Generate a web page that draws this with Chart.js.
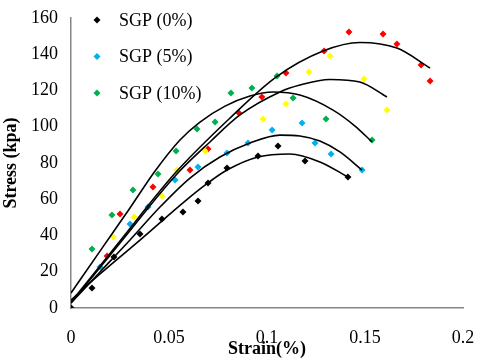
<!DOCTYPE html>
<html>
<head>
<meta charset="utf-8">
<script src="https://cdn.jsdelivr.net/npm/chart.js@4.4.1/dist/chart.umd.min.js"></script>
<style>
  html, body { margin: 0; padding: 0; background: #fff; }
  #wrap { width: 480px; height: 362px; }
</style>
</head>
<body>
<div id="wrap"><canvas id="chart"></canvas></div>
<script>
// measured points (strain, stress)
const sgp0Strain = [0, 0.0107, 0.0219, 0.0352, 0.0464, 0.0571, 0.0648, 0.0699, 0.0796, 0.0954, 0.1056, 0.1194, 0.1413];
const sgp0Stress = [0, 11.0, 28.1, 40.8, 49.1, 53.0, 59.0, 69.0, 77.2, 83.9, 89.4, 81.1, 72.3];

const sgp5Strain = [0, 0.0148, 0.0301, 0.0393, 0.0531, 0.0648, 0.0796, 0.0903, 0.1026, 0.1179, 0.1245, 0.1327, 0.1485];
const sgp5Stress = [0, 22.6, 46.3, 55.7, 70.6, 77.8, 85.5, 91.0, 98.2, 102.1, 91.0, 85.0, 76.1];

const sgp10Strain = [0, 0.0107, 0.0209, 0.0316, 0.0444, 0.0536, 0.0643, 0.0735, 0.0816, 0.0923, 0.1051, 0.1133, 0.1301, 0.1536];
const sgp10Stress = [0, 32.6, 51.3, 65.1, 73.9, 86.6, 98.8, 102.6, 118.6, 121.4, 128.0, 115.9, 104.3, 92.7];

const redStrain = [0, 0.0184, 0.0250, 0.0418, 0.0607, 0.0699, 0.0857, 0.0974, 0.1097, 0.1291, 0.1418, 0.1592, 0.1663, 0.1786, 0.1832];
const redStress = [0, 28.7, 51.9, 66.8, 76.1, 87.7, 107.6, 116.4, 129.7, 141.8, 152.3, 151.2, 145.7, 134.1, 125.2];

const yellowStrain = [0, 0.0214, 0.0321, 0.0464, 0.0541, 0.0684, 0.0980, 0.1097, 0.1214, 0.1321, 0.1495, 0.1612];
const yellowStress = [0, 39.2, 50.2, 61.8, 76.1, 86.6, 104.3, 112.6, 130.2, 139.0, 126.3, 109.2];

// trend curves
const fit0Strain = [0, 0.0148, 0.0352, 0.0582, 0.0699, 0.0796, 0.0954, 0.1117, 0.1270, 0.1413];
const fit0Stress = [4.4, 18.8, 37.5, 59.0, 69.0, 76.1, 83.3, 85.0, 80.6, 72.3];

const fit5Strain = [0, 0.0148, 0.0301, 0.0454, 0.0607, 0.0760, 0.0913, 0.1066, 0.1168, 0.1270, 0.1372, 0.1485];
const fit5Stress = [2.8, 19.9, 37.5, 55.7, 71.7, 83.3, 91.0, 95.4, 94.9, 92.1, 86.1, 76.1];

const fit10Strain = [0, 0.0148, 0.0301, 0.0429, 0.0556, 0.0658, 0.0786, 0.0913, 0.1031, 0.1168, 0.1337, 0.1449, 0.1536];
const fit10Stress = [8.3, 31.4, 55.2, 75.6, 92.7, 102.6, 111.4, 117.0, 119.2, 117.5, 109.2, 100.4, 91.6];

const fitRedStrain = [0, 0.0250, 0.0536, 0.0811, 0.1046, 0.1286, 0.1474, 0.1663, 0.1832];
const fitRedStress = [3.3, 37.0, 75.0, 104.8, 127.4, 141.8, 146.5, 143.4, 132.4];

const fitYellowStrain = [0, 0.0250, 0.0536, 0.0709, 0.0862, 0.1066, 0.1168, 0.1321, 0.1474, 0.1612];
const fitYellowStress = [2.8, 35.9, 73.4, 91.6, 106.5, 119.2, 123.0, 126.1, 124.7, 116.4];

const legendLabels = ["SGP (0%)", "SGP (5%)", "SGP (10%)"];
const xTicks = [0, 0.05, 0.1, 0.15, 0.2];
const yTicks = [0, 20, 40, 60, 80, 100, 120, 140, 160];

const pointColors = ["#000000", "#00B0F0", "#00B050", "#FF0000", "#FFFF00"];
const FONT = "'Liberation Serif', 'Times New Roman', serif";

const toPoints = (xs, ys) => xs.map((x, i) => ({ x: x, y: ys[i] }));

const markerSet = (label, xs, ys, color) => ({
  label: label,
  data: toPoints(xs, ys),
  backgroundColor: color,
  borderColor: color,
  borderWidth: 0,
  pointStyle: "rectRot",
  pointRadius: 3.5,
  showLine: false,
});

const curveSet = (xs, ys) => ({
  label: "",
  data: toPoints(xs, ys),
  borderColor: "#000000",
  borderWidth: 1.6,
  pointRadius: 0,
  showLine: true,
  cubicInterpolationMode: "monotone",
  fill: false,
});

// legend drawn inside the plot, top left, like the original
const insideLegend = {
  id: "insideLegend",
  afterDraw(chart) {
    const { ctx, chartArea } = chart;
    ctx.save();
    ctx.font = "18px " + FONT;
    ctx.textBaseline = "middle";
    legendLabels.forEach((label, i) => {
      const y = chartArea.top + 2 + i * 36.5;
      const x = chartArea.left + 26;
      const r = 3.5;
      ctx.fillStyle = pointColors[i];
      ctx.beginPath();
      ctx.moveTo(x, y - r);
      ctx.lineTo(x + r, y);
      ctx.lineTo(x, y + r);
      ctx.lineTo(x - r, y);
      ctx.closePath();
      ctx.fill();
      ctx.fillStyle = "#000000";
      ctx.fillText(label, chartArea.left + 48, y + 1);
    });
    ctx.restore();
  },
};

new Chart(document.getElementById("chart"), {
  type: "scatter",
  data: {
    datasets: [
      curveSet(fit0Strain, fit0Stress),
      curveSet(fit5Strain, fit5Stress),
      curveSet(fit10Strain, fit10Stress),
      curveSet(fitRedStrain, fitRedStress),
      curveSet(fitYellowStrain, fitYellowStress),
      markerSet(legendLabels[0], sgp0Strain, sgp0Stress, pointColors[0]),
      markerSet(legendLabels[1], sgp5Strain, sgp5Stress, pointColors[1]),
      markerSet(legendLabels[2], sgp10Strain, sgp10Stress, pointColors[2]),
      markerSet("", yellowStrain, yellowStress, pointColors[4]),
      markerSet("", redStrain, redStress, pointColors[3]),
    ],
  },
  options: {
    responsive: true,
    maintainAspectRatio: false,
    animation: false,
    layout: { padding: { left: 0, right: 17, top: 18, bottom: 0 } },
    plugins: {
      legend: { display: false },
      tooltip: { enabled: false },
    },
    scales: {
      x: {
        type: "linear",
        min: 0,
        max: 0.2,
        afterBuildTicks: (scale) => {
          scale.ticks = xTicks.map((v) => ({ value: v }));
        },
        afterFit: (scale) => {
          scale.height = 54;
          // keep the label overhang from eating into the plot width
          scale.paddingLeft = 0;
          scale.paddingRight = 0;
        },
        grid: { display: false },
        border: { display: true, color: "#868686", width: 1.5 },
        ticks: {
          color: "#000000",
          padding: 11,
          font: { family: FONT, size: 18 },
          callback: (v) => String(+v.toFixed(2)),
        },
        title: {
          display: true,
          text: "Strain(%)",
          color: "#000000",
          padding: { top: 0, bottom: 2 },
          font: { family: FONT, size: 18, weight: "bold" },
        },
      },
      y: {
        type: "linear",
        min: 0,
        max: 160,
        afterBuildTicks: (scale) => {
          scale.ticks = yTicks.map((v) => ({ value: v }));
        },
        afterFit: (scale) => {
          scale.width = 71;
        },
        grid: { display: false },
        border: { display: true, color: "#868686", width: 1.5 },
        ticks: {
          color: "#000000",
          padding: 5,
          font: { family: FONT, size: 18 },
        },
        title: {
          display: true,
          text: "Stress (kpa)",
          color: "#000000",
          padding: { top: 1, bottom: 0 },
          font: { family: FONT, size: 18, weight: "bold" },
        },
      },
    },
  },
  plugins: [insideLegend],
});
</script>
</body>
</html>
